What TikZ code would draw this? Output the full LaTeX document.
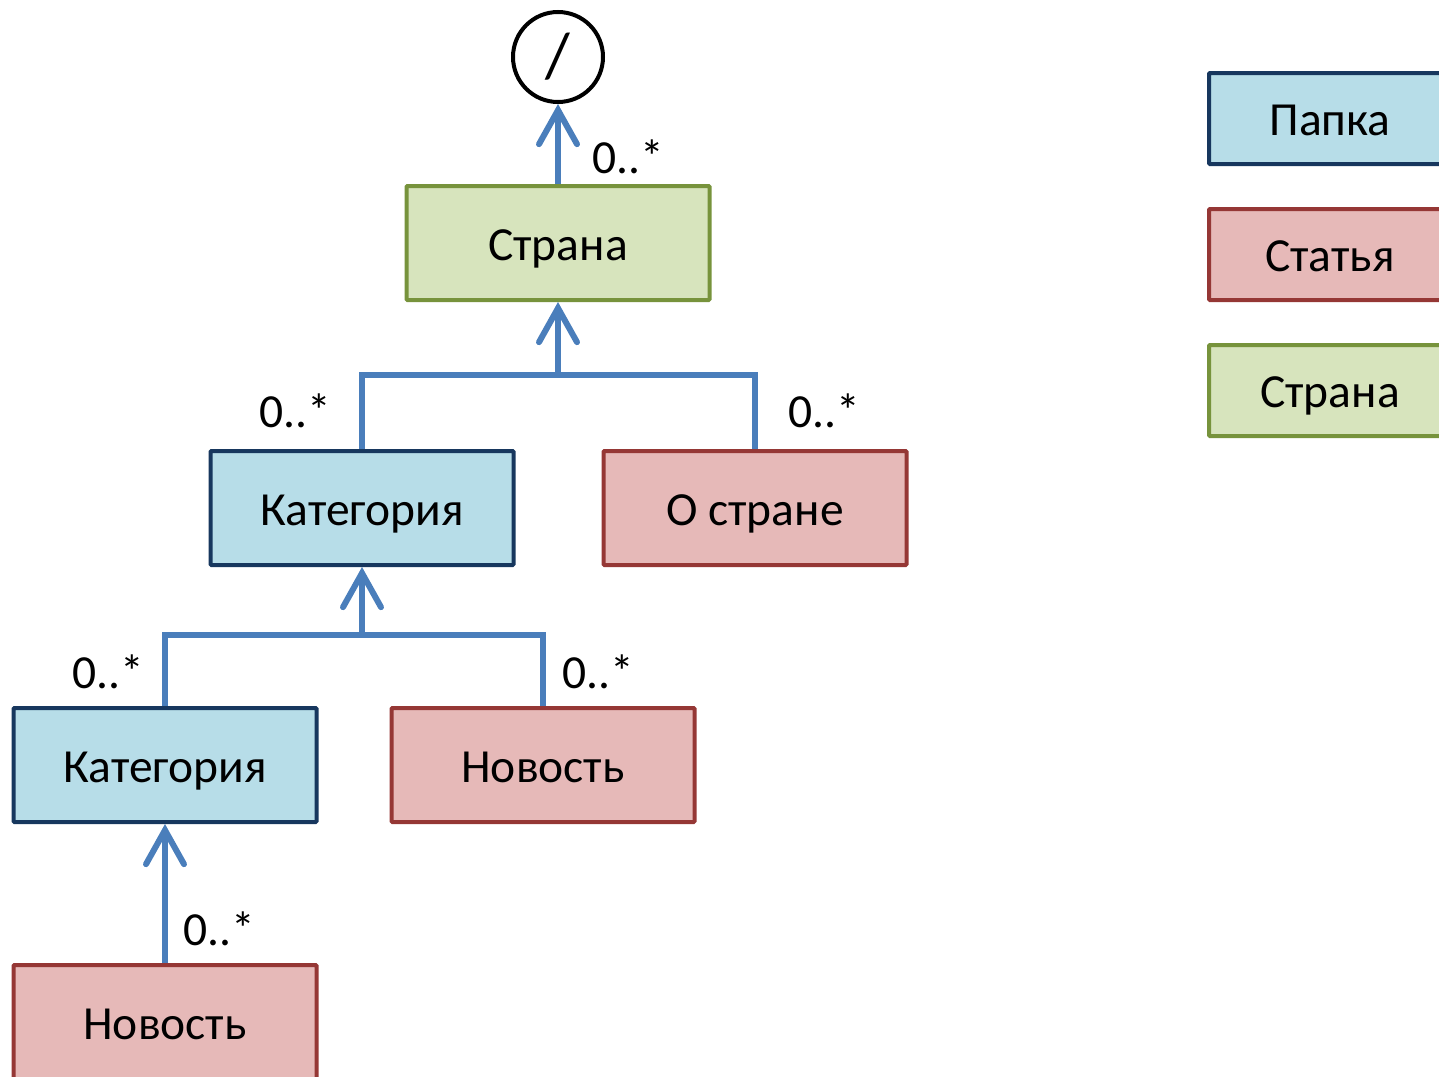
\documentclass[tikz,border=0pt]{standalone}
\usepackage{fontspec}
\setmainfont{Carlito}
\usetikzlibrary{arrows.meta}
\definecolor{folderfill}{HTML}{B7DDE8}
\definecolor{folderline}{HTML}{17375E}
\definecolor{articlefill}{HTML}{E6B9B8}
\definecolor{articleline}{HTML}{953735}
\definecolor{countryfill}{HTML}{D7E4BD}
\definecolor{countryline}{HTML}{77933C}
\definecolor{linkblue}{HTML}{4A7EBB}
\begin{document}
\begin{tikzpicture}[x=1pt,y=-1pt]
    \tikzstyle{every node}+=[inner sep=0pt, font=\fontsize{47.5}{57}\selectfont]
    \tikzstyle{box}=[rectangle, line width=4pt, rounded corners=1pt, minimum width=303pt, minimum height=114pt, text height=34pt, text depth=0pt]
    \tikzstyle{folder}=[box, draw=folderline, fill=folderfill]
    \tikzstyle{article}=[box, draw=articleline, fill=articlefill]
    \tikzstyle{country}=[box, draw=countryline, fill=countryfill]
    \tikzstyle{legendbox}=[minimum width=242pt, minimum height=91pt]
    \tikzstyle{link}=[draw=linkblue, line width=6pt]
    \tikzstyle{up}=[link, -{Straight Barb[length=34pt, width=38pt, line cap=round]}]
    \useasboundingbox (0,0) rectangle (1439,1076);
    % tree
    \node [circle, draw=black, line width=4pt, minimum size=90pt, font=\fontsize{64}{70}\selectfont] (root) at (558,57) {/};
    \node [country] (strana) at (558,243) {Страна};
    \node [folder] (kat1) at (362,508) {Категория};
    \node [article] (ostr) at (755,508) {О стране};
    \node [folder] (kat2) at (165,765) {Категория};
    \node [article] (nov1) at (543,765) {Новость};
    \node [article] (nov2) at (165,1022) {Новость};
    % legend
    \node [folder, legendbox] (lfolder) at (1330,118.5) {Папка};
    \node [article, legendbox] (larticle) at (1330,254.5) {Статья};
    \node [country, legendbox] (lcountry) at (1330,390.5) {Страна};
    % connectors
    \coordinate (j1) at (558,375);
    \coordinate (j2) at (362,635);
    \draw [up] (strana.north) -- (root.south);
    \draw [link] (kat1.north) |- (j1) -| (ostr.north);
    \draw [up] (j1) -- (strana.south);
    \draw [link] (kat2.north) |- (j2) -| (nov1.north);
    \draw [up] (j2) -- (kat1.south);
    \draw [up] (nov2.north) -- (kat2.south);
    % multiplicities
    \node (m1) at (628,157) {0..*};
    \node (m2) at (295,411) {0..*};
    \node (m3) at (824,411) {0..*};
    \node (m4) at (108,672) {0..*};
    \node (m5) at (598,672) {0..*};
    \node (m6) at (219,929) {0..*};
\end{tikzpicture}
\end{document}
